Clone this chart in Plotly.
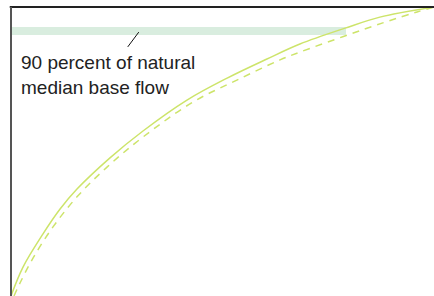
import plotly.graph_objects as go

# Solid curve (percent of time axis vs percent of flow)
solid_x = [0, 2.84, 7.57, 11.6, 15.6, 23.4, 31.2, 41.6, 51.1, 60.5, 68.3, 79.0, 87.2, 100]
solid_y = [0, 10.0, 21.5, 30.1, 37.0, 47.8, 57.1, 67.8, 75.4, 82.0, 87.2, 92.7, 96.5, 100]

# Dashed curve
dash_x = [0.71, 2.13, 5.2, 9.93, 15.6, 22.7, 31.2, 43.0, 53.4, 63.6, 68.3, 87.9, 96.0, 100]
dash_y = [0, 4.5, 13.1, 23.9, 34.3, 44.6, 55.0, 67.1, 74.7, 81.7, 84.4, 94.5, 98.3, 100]

# Band marking 90 percent of natural median base flow
band_low = 90.3
band_high = 93.1
band_end = 79.2

label_text = "90 percent of natural<br>median base flow"

curve_color = "#cde46a"

fig = go.Figure()
fig.add_trace(go.Scatter(x=solid_x, y=solid_y, mode="lines",
                         line=dict(color=curve_color, width=1.5, shape="spline", smoothing=1.0), hoverinfo="skip"))
fig.add_trace(go.Scatter(x=dash_x, y=dash_y, mode="lines",
                         line=dict(color=curve_color, width=1.5, dash="7px,6px", shape="spline", smoothing=1.0), hoverinfo="skip"))

fig.add_shape(type="rect", xref="x", yref="y", x0=0, x1=band_end, y0=band_low, y1=band_high,
              fillcolor="#d9eddf", line=dict(width=0), layer="below")
fig.add_shape(type="line", xref="x", yref="y", x0=30.2, y0=91.3, x1=27.6, y1=86.2,
              line=dict(color="#111111", width=1))
# frame lines
fig.add_shape(type="line", xref="paper", yref="paper", x0=-0.003, x1=1, y0=1.0, y1=1.0,
              line=dict(color="#222222", width=2))
fig.add_shape(type="line", xref="paper", yref="paper", x0=0, x1=0, y0=0, y1=1.0,
              line=dict(color="#555555", width=2))

fig.add_annotation(x=0.019, y=0.85, xref="paper", yref="paper", xanchor="left", yanchor="top",
                   text=label_text, showarrow=False, align="left",
                   font=dict(family="Liberation Sans Narrow, Arial Narrow, sans-serif", size=19, color="#222222"))

fig.update_layout(
    width=434, height=296,
    margin=dict(l=11, r=0, t=7, b=0),
    paper_bgcolor="white", plot_bgcolor="white",
    showlegend=False,
    xaxis=dict(range=[0, 100], showgrid=False, zeroline=False, showticklabels=False, ticks="", showline=False),
    yaxis=dict(range=[0, 100], showgrid=False, zeroline=False, showticklabels=False, ticks="", showline=False),
)

fig.write_html("out.html", config={"displayModeBar": False},
               post_script="document.body.style.margin='0';document.body.style.overflow='hidden';")
